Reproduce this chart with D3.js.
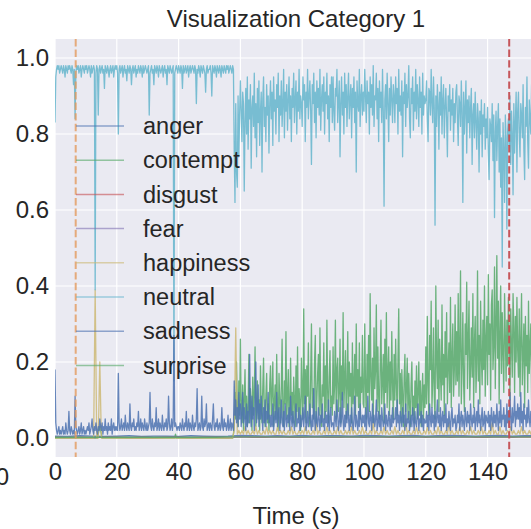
<!DOCTYPE html>
<html>
<head>
<meta charset="utf-8">
<script src="https://cdn.jsdelivr.net/npm/d3@7"></script>
<style>
  body { margin: 0; background: #fff; }
  text { font-family: "Liberation Sans", Arial, sans-serif; fill: #262626; }
</style>
</head>
<body>
<svg id="chart" width="531" height="529"></svg>
<script>
// sampling of the series (seconds between samples)
const FINE_STEP = 0.25;
const DENSE_STEP = 0.5;
const COARSE_STEP = 4;

const xTicks = [0, 20, 40, 60, 80, 100, 120, 140];
const yTicks = [0.0, 0.2, 0.4, 0.6, 0.8, 1.0];
const eventTimes = [6.7, 147];

const emotions = ["anger", "contempt", "disgust", "fear", "happiness", "neutral", "sadness", "surprise"];
const emotionColors = ["#4C72B0", "#55A868", "#C44E52", "#8172B2", "#CCB974", "#64B5CD", "#4C72B0", "#55A868"];

// probabilities in percent, one value every FINE_STEP s from t = 0
const neutral = [
  83,95,97,98,97,98,96,97,98,97, 96,98,97,95,98,97,96,98,97,98, 97,96,98,97,93,97,84,96,98,97, 98,96,97,98,95,97,98,97,96,98,
  97,98,96,97,98,97,95,98,96,97, 98,97,39,96,98,97,85,97,98,96, 97,98,96,97,92,98,97,96,98,97, 95,97,98,96,97,98,95,97,98,97,
  98,96,80,97,98,96,97,98,95,97, 98,96,97,94,98,97,96,98,97,93, 97,98,96,97,98,95,97,96,98,97, 96,98,97,95,98,96,97,98,97,96,
  97,98,85,96,97,98,96,97,93,98, 97,96,98,97,95,98,97,96,97,98, 95,97,98,96,97,93,98,97,96,98, 97,96,97,98,15,96,97,98,97,96,
  98,97,96,98,97,92,98,96,97,98, 96,97,98,95,97,98,96,97,98,97, 96,98,97,88,97,96,98,97,95,98, 97,96,98,97,96,91,97,98,96,97,
  97,98,96,90,98,97,96,98,97,95, 98,97,96,98,97,95,98,97,96,98, 97,96,98,97,98,96,97,98,97,96, 98,97,
  76, 62,88,70,66,90,74,85,
  94,86,78,91,88,65,83,92,80,95, 76,89,84,93,71,87,90,82,96,79, 88,74,92,83,94,77,86,91,70,89, 95,82,87,78,93,85,90,75,88,94,
  84,91,77,95,86,89,80,93,87,96, 78,90,85,94,82,88,97,79,91,86, 93,81,89,95,84,90,78,92,87,96, 83,89,94,80,91,86,97,84,90,88,
  82,95,89,93,78,91,87,97,84,90, 94,86,72,93,88,96,83,91,79,94, 87,92,85,97,81,89,93,86,95,80, 91,88,96,84,90,78,93,87,95,83,
  95,86,81,92,90,97,83,89,94,74, 88,95,85,91,80,96,87,93,82,90, 96,84,89,93,79,92,87,95,83,91, 70,94,88,86,97,82,90,93,85,91,
  86,97,90,83,94,88,91,80,95,87, 93,85,98,82,90,89,96,84,92,78, 94,87,91,83,97,86,61,89,93,84, 96,88,78,92,85,95,89,83,93,90,
  83,95,88,92,80,97,86,90,85,94, 74,91,88,96,82,93,87,90,98,84, 79,92,88,95,81,91,86,97,84,93, 89,82,95,87,91,80,96,85,90,88,
  89,94,84,78,92,91,85,97,88,83, 95,87,56,90,82,93,88,76,91,85, 95,80,89,93,79,87,92,84,74,90, 86,93,81,89,85,92,78,88,83,91,
  93,84,77,90,88,82,94,86,62,91, 80,87,94,75,89,83,90,79,87,92, 72,85,88,79,91,83,76,88,84,70, 86,80,89,74,85,82,88,76,84,79,
  87,75,68,84,82,78,88,73,85,58, 80,86,73,82,88,70,84,66,79,45, 83,76,62,85,79,55,81,84,77,90, 72,86,80,64,88,75,83,91,70,86,
  91,80,74,88,85,79,93,76,68,87, 82,95,78,71,89,84,80,93,77,86, 90,74,88,82,90
];

const contempt = [
  0,0,0,0,0,0,0,0,0,0, 0,0,0,0,0,0,0,0,0,0, 0,0,0,0,0,0,0,0,0,0, 0,0,0,0,0,0,0,0,0,0,
  0,0,0,0,0,0,0,0,0,0, 0,0,0,0,0,0,1,2,3,2, 1,0,0,0,0,0,0,0,0,0, 0,0,0,0,0,0,0,0,0,0,
  0,0,0,0,0,0,0,0,0,0, 0,0,0,0,0,0,0,0,0,0, 0,0,0,0,0,0,0,0,0,0, 0,0,0,0,0,0,0,0,0,0,
  0,0,0,0,0,0,0,0,0,0, 0,0,0,0,0,0,0,0,0,0, 0,0,0,0,0,0,0,0,0,0, 0,0,0,0,0,0,1,0,0,0,
  0,0,0,0,0,0,0,0,0,0, 0,0,0,0,0,0,0,0,0,0, 0,0,0,0,0,0,0,0,0,0, 0,0,0,0,0,0,0,0,0,0,
  0,0,0,0,0,0,0,0,0,0, 0,0,0,0,0,0,0,0,0,0, 0,0,0,0,0,0,0,0,0,0, 0,1,
  3, 12,5,20,8,3,15,6,
  26,8,4,14,2,10,18,5,11,3, 7,22,4,13,9,2,16,6,11,24, 3,8,15,5,10,2,19,7,4,13, 21,6,3,11,17,4,9,2,14,19,
  6,12,20,3,9,14,5,22,8,2, 17,10,4,13,26,7,3,15,9,28, 5,11,18,3,8,21,6,12,4,16, 10,3,19,7,24,5,13,9,2,21,
  12,5,34,9,18,4,19,11,25,6, 3,16,30,8,13,5,20,27,4,10, 17,22,6,29,9,3,14,11,25,5, 19,7,31,12,4,16,23,8,11,6,
  24,9,14,31,5,18,21,7,12,26, 4,19,10,33,8,15,23,5,13,28, 6,20,11,17,4,25,9,14,22,6, 30,11,18,8,25,5,16,12,27,9,
  8,30,14,5,22,12,27,7,38,16, 10,21,4,29,13,18,35,7,24,11, 5,19,31,9,15,22,4,26,12,33, 8,17,24,6,20,10,28,14,5,22,
  10,26,14,6,20,34,9,17,4,18, 11,3,16,22,7,13,21,5,17,9, 3,14,20,6,11,4,15,8,19,5, 12,20,6,15,3,11,17,5,14,8,
  24,9,32,14,6,27,18,36,8,15, 29,11,5,40,20,13,31,7,26,17, 10,35,14,22,6,28,16,33,9,19, 25,12,37,8,21,30,11,18,35,14,
  28,15,38,11,24,44,9,19,33,14, 7,30,22,41,13,26,36,10,19,29, 16,38,8,25,32,12,20,44,15,27, 9,36,21,14,31,18,40,11,26,32,
  14,43,22,30,10,35,39,18,24,45, 13,30,48,21,36,9,28,40,17,33, 22,12,38,27,15,31,19,37,26,10, 34,24,16,38,29,12,32,20,37,23,
  16,34,11,26,38,14,22,30,8,32, 19,27,12,36,17,24,30,10,28,15, 33,21,11,27,18
];

const sadness = [
  18,4,2,1,2,3,1,2,1,2, 3,1,2,1,4,2,1,2,7,2, 1,3,2,1,2,1,11,3,2,1, 2,3,1,2,4,1,2,3,1,2,
  1,2,3,2,4,1,2,3,5,2, 1,3,2,4,2,1,3,2,5,3, 2,4,1,3,2,5,2,3,1,4, 2,3,2,5,1,3,4,2,3,2,
  3,2,17,4,2,3,5,2,3,4, 2,6,3,2,4,3,2,9,3,2, 4,3,5,2,3,2,4,3,7,2, 3,5,2,4,3,2,5,3,2,4,
  2,3,4,12,3,2,5,3,2,4, 3,8,2,3,5,2,4,3,2,6, 3,2,4,3,5,2,3,11,4,2, 3,5,2,4,27,3,4,3,2,3,
  3,2,4,3,2,5,3,2,4,3, 7,2,3,5,2,4,3,2,6,3, 2,4,3,5,13,2,3,4,2,3, 11,3,2,5,3,4,9,2,3,4,
  2,4,3,2,5,9,3,2,4,3, 5,2,3,4,2,3,8,3,2,5, 3,4,2,3,6,2,3,5,2,4, 3,2,
  15, 6,10,4,8,3,12,5,
  9,3,6,12,4,8,5,2,9,3, 7,4,22,6,3,11,5,8,2,10, 20,4,7,14,3,9,5,11,6,2, 8,4,10,3,7,5,12,4,6,3,
  6,3,9,2,5,7,4,12,3,6, 8,2,5,10,4,3,7,2,9,5, 3,6,4,8,2,11,5,3,7,4, 2,6,9,3,5,4,8,2,6,3,
  5,8,3,6,11,2,4,7,3,5, 9,4,2,6,3,13,5,2,7,4, 3,8,5,2,6,4,9,3,5,2, 7,4,6,3,10,2,5,8,3,4,
  4,2,7,5,3,10,6,2,4,8, 3,5,12,4,2,6,3,7,4,9, 5,2,6,3,8,4,2,5,11,3, 6,4,2,7,3,9,5,3,6,4,
  6,3,8,2,5,11,4,3,7,5, 2,9,4,6,3,5,10,2,4,7, 3,6,2,8,5,3,4,9,2,6, 4,3,7,5,2,6,3,8,4,5,
  5,8,3,10,4,6,2,7,5,3, 8,4,6,2,9,3,5,4,7,2, 4,6,3,8,5,2,7,4,3,6, 9,2,5,4,7,3,6,2,5,4,
  4,7,3,6,2,9,5,3,8,4, 6,2,7,3,5,10,4,6,3,8, 2,5,7,3,6,4,9,2,5,3, 7,4,2,6,8,3,5,4,6,2,
  3,6,4,9,2,5,7,3,6,4, 2,8,5,3,7,4,6,2,9,5, 3,6,4,8,2,5,7,3,10,4, 6,2,5,8,3,4,7,2,6,5,
  4,7,3,6,2,8,5,3,7,4, 6,3,9,5,2,7,4,10,3,6, 5,8,3,6,2,9,4,7,3,12, 5,2,8,4,6,11,3,7,5,9,
  5,8,3,12,4,7,2,9,5,6, 3,8,4,10,5,3,7,4,9,2, 6,11,4,7,5
];

// one value every DENSE_STEP s
const happiness = [
  0,0,0,0,0,0,0,0,0,0, 0,0,0,0,0,0,0,0,0,0,
  0,0,0,0,0,0,39,0,0,20, 0,0,0,0,0,0,0,0,0,0,
  0,0,0,0,0,0,0,0,0,0, 0,0,0,0,0,0,0,0,0,0,
  0,0,0,0,0,0,0,0,0,0, 0,0,0,0,0,0,0,0,0,0,
  0,0,0,0,0,0,0,0,0,0, 0,0,0,0,0,0,0,0,0,0,
  0,0,0,0,0,0,0,0,0,0, 0,0,0,0,0,0,
  2,29,1,2,
  1,2,1,3,1,2,1,1,2,1, 3,1,2,1,1,2,1,3,1,2,
  1,2,1,1,3,1,2,1,2,1, 1,2,1,3,1,2,1,1,2,1,
  2,1,3,1,2,1,1,2,1,4, 1,2,1,1,2,1,3,1,2,1,
  1,2,1,3,1,2,1,1,2,1, 2,1,3,1,2,1,1,2,1,3,
  1,2,1,1,2,1,4,1,2,1, 1,2,1,3,1,2,1,1,2,1,
  3,1,2,1,1,2,1,5,1,2, 1,1,2,1,3,1,2,1,1,2,
  1,3,1,2,1,1,2,1,3,1, 2,1,1,2,1,4,1,2,1,1,
  2,1,3,1,2,1,1,2,1,3, 1,2,1,1,2,1,3,1,2,1,
  1,2,1,4,1,2,1,1,3,1, 2,1,1,2,1,3,1,2,1,1,
  2,1,3,1,2,1,1,2,1,3, 1,2,1
];

// near-zero series, one value every COARSE_STEP s
const anger = [0.5,0.4,0.6,0.5,0.4,0.5,0.6,0.4,0.5,0.5, 0.4,0.6,0.5,0.4,0.5,0.7,0.6,0.5,0.6,0.5, 0.7,0.5,0.6,0.6,0.5,0.7,0.6,0.5,0.6,0.7, 0.5,0.6,0.7,0.6,0.5,0.6,0.7,0.5,0.6,0.6];
const disgust = [0.2,0.1,0.2,0.1,0.2,0.2,0.1,0.2,0.1,0.2, 0.2,0.1,0.2,0.2,0.1,0.3,0.2,0.2,0.3,0.2, 0.2,0.3,0.2,0.2,0.3,0.2,0.3,0.2,0.2,0.3, 0.2,0.3,0.2,0.3,0.2,0.2,0.3,0.2,0.3,0.2];
const fear = [0.3,0.2,0.3,0.2,0.3,0.3,0.2,0.3,0.2,0.3, 0.3,0.2,0.3,0.3,0.2,0.4,0.3,0.3,0.4,0.3, 0.3,0.4,0.3,0.3,0.4,0.3,0.4,0.3,0.3,0.4, 0.3,0.4,0.3,0.4,0.3,0.3,0.4,0.3,0.4,0.3];
const surprise = [0.2,0.2,0.2,0.2,0.2,0.2,0.2,0.2,0.2,0.2, 0.2,0.2,0.2,0.2,0.3,0.3,0.3,0.3,0.3,0.3, 0.3,0.3,0.3,0.3,0.3,0.3,0.3,0.3,0.3,0.3, 0.3,0.3,0.3,0.3,0.3,0.3,0.3,0.3,0.3,0.3];

const seriesValues = {
  anger: [anger, COARSE_STEP], contempt: [contempt, FINE_STEP], disgust: [disgust, COARSE_STEP],
  fear: [fear, COARSE_STEP], happiness: [happiness, DENSE_STEP], neutral: [neutral, FINE_STEP],
  sadness: [sadness, FINE_STEP], surprise: [surprise, COARSE_STEP]
};

const svg = d3.select("#chart");
const W = 531, H = 529;
const margin = { left: 55, top: 39, right: -6, bottom: 72 };
const plotW = W - margin.left - margin.right;
const plotH = H - margin.top - margin.bottom;

const x = d3.scaleLinear().domain([0, 156]).range([margin.left, margin.left + plotW]);
const y = d3.scaleLinear().domain([-0.05, 1.05]).range([margin.top + plotH, margin.top]);

svg.append("defs").append("clipPath").attr("id", "plot-clip")
  .append("rect").attr("x", margin.left).attr("y", margin.top).attr("width", plotW).attr("height", plotH);

svg.append("rect")
  .attr("x", margin.left).attr("y", margin.top)
  .attr("width", plotW).attr("height", plotH)
  .attr("fill", "#EAEAF2");

const grid = svg.append("g").attr("stroke", "#fff").attr("stroke-width", 1.2);
grid.selectAll("line.gx").data(xTicks).join("line")
  .attr("x1", d => x(d)).attr("x2", d => x(d))
  .attr("y1", margin.top).attr("y2", margin.top + plotH);
grid.selectAll("line.gy").data(yTicks).join("line")
  .attr("y1", d => y(d)).attr("y2", d => y(d))
  .attr("x1", margin.left).attr("x2", margin.left + plotW);

const plot = svg.append("g").attr("clip-path", "url(#plot-clip)");

emotions.forEach((name, i) => {
  const [vals, step] = seriesValues[name];
  const line = d3.line().x((d, j) => x(j * step)).y(d => y(d / 100));
  plot.append("path")
    .datum(vals)
    .attr("d", line)
    .attr("fill", "none")
    .attr("stroke", emotionColors[i])
    .attr("stroke-width", 1.3)
    .attr("stroke-opacity", 0.85)
    .attr("stroke-linejoin", "round");
});

// event markers
const eventColors = ["#E49A5C", "#C44E52"];
plot.selectAll("line.event").data(eventTimes).join("line")
  .attr("x1", d => x(d)).attr("x2", d => x(d))
  .attr("y1", margin.top).attr("y2", margin.top + plotH)
  .attr("stroke", (d, i) => eventColors[i])
  .attr("stroke-opacity", (d, i) => i === 0 ? 0.8 : 0.95)
  .attr("stroke-width", 2)
  .attr("stroke-dasharray", "7.4,3.2");

// axes
const xAxis = svg.append("g")
  .attr("transform", `translate(0,${margin.top + plotH})`)
  .call(d3.axisBottom(x).tickValues(xTicks).tickFormat(d3.format("d")).tickSize(0).tickPadding(6));
const yAxis = svg.append("g")
  .attr("transform", `translate(${margin.left},0)`)
  .call(d3.axisLeft(y).tickValues(yTicks).tickFormat(d3.format(".1f")).tickSize(0).tickPadding(6));
[xAxis, yAxis].forEach(a => {
  a.select(".domain").remove();
  a.selectAll("text").attr("font-size", 24).attr("fill", "#262626")
    .attr("font-family", '"Liberation Sans", Arial, sans-serif');
});

// clipped tick label of the neighbouring panel
svg.append("text").attr("x", 9).attr("y", 485).attr("text-anchor", "end")
  .attr("font-size", 24).text("0");

svg.append("text")
  .attr("x", 296).attr("y", 27).attr("text-anchor", "middle")
  .attr("font-size", 24).text("Visualization Category 1");

svg.append("text")
  .attr("x", 296).attr("y", 524).attr("text-anchor", "middle")
  .attr("font-size", 24).text("Time (s)");

// legend
const legend = svg.append("g");
const rowH = 34.2, legendTop = 126;
emotions.forEach((name, i) => {
  const ly = legendTop + i * rowH;
  legend.append("line")
    .attr("x1", 76).attr("x2", 124).attr("y1", ly).attr("y2", ly)
    .attr("stroke", emotionColors[i]).attr("stroke-width", 1.5).attr("stroke-opacity", 0.6);
  legend.append("text")
    .attr("x", 143).attr("y", ly).attr("dy", "0.35em")
    .attr("font-size", 23.5).text(name);
});
</script>
</body>
</html>
